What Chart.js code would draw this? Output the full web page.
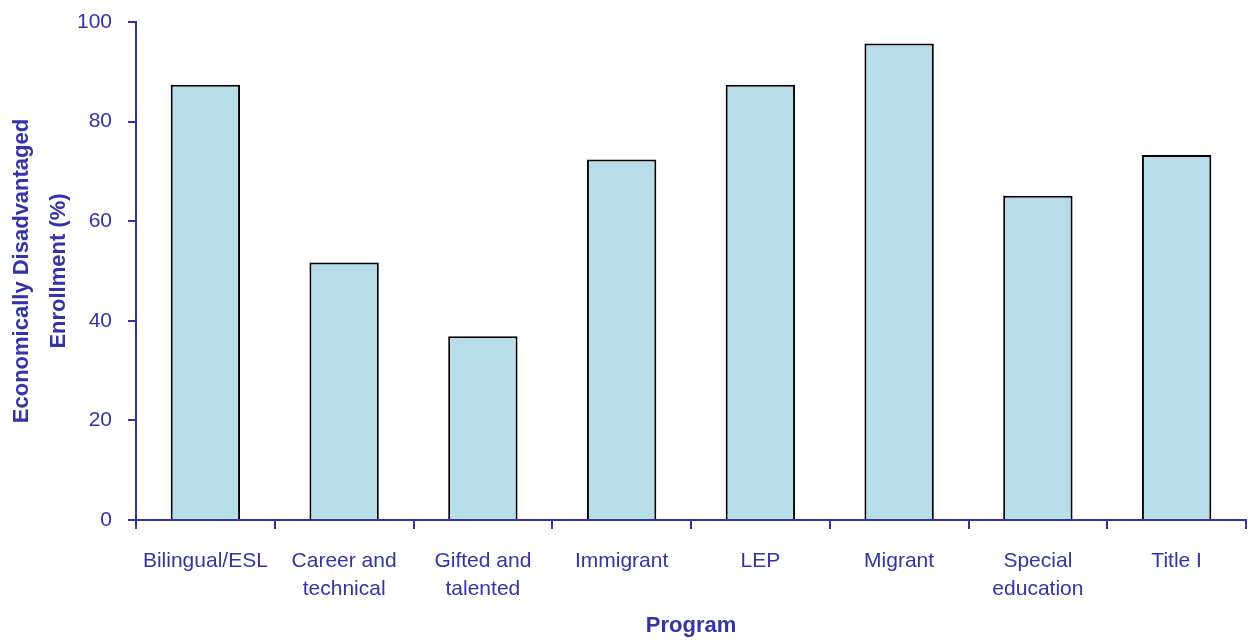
<!DOCTYPE html>
<html>
<head>
<meta charset="utf-8">
<script src="https://cdn.jsdelivr.net/npm/chart.js@4"></script>
<style>
  html, body { margin: 0; padding: 0; background: #fff; }
  #wrap { width: 1248px; height: 640px; }
</style>
</head>
<body>
<div id="wrap"><canvas id="barChart" width="1248" height="640"></canvas></div>
<script>
// 차트 데이터
const programs = [
    'Bilingual/ESL',
    ['Career and', 'technical'],
    ['Gifted and', 'talented'],
    'Immigrant',
    'LEP',
    'Migrant',
    ['Special', 'education'],
    'Title I'
];
const enrollment = [87.4, 51.7, 36.9, 72.4, 87.4, 95.7, 65.1, 73.3];
const yTicks = [0, 20, 40, 60, 80, 100];

const axisBlue = '#3333AA';
const fontName = "'Liberation Sans', Arial, sans-serif";

window.onload = function () {
    let ctx = document.getElementById('barChart').getContext('2d');

    new Chart(ctx, {
        type: 'bar',
        data: {
            labels: programs,
            datasets: [{
                data: enrollment,
                backgroundColor: '#B7DDE8',
                borderColor: '#000',
                borderWidth: 2,
                barPercentage: 0.5,
                categoryPercentage: 1.0
            }]
        },
        options: {
            responsive: false,
            animation: false,
            layout: { padding: { top: 22, right: 2, bottom: 0, left: 0 } },
            plugins: {
                legend: { display: false },
                tooltip: { enabled: false }
            },
            scales: {
                x: {
                    afterFit: function (scale) {
                        scale.height = 120;
                        scale.paddingLeft = 0;
                        scale.paddingRight = 0;
                    },
                    border: { color: axisBlue, width: 2 },
                    grid: {
                        offset: true,
                        drawOnChartArea: false,
                        drawTicks: true,
                        tickLength: 9,
                        color: axisBlue,
                        lineWidth: 2
                    },
                    ticks: {
                        color: axisBlue,
                        font: { family: fontName, size: 21, lineHeight: 1.35 },
                        padding: 18,
                        maxRotation: 0,
                        autoSkip: false
                    },
                    title: {
                        display: true,
                        text: 'Program',
                        color: axisBlue,
                        font: { family: fontName, size: 22, weight: 'bold' },
                        padding: { top: 0, bottom: 1 }
                    }
                },
                y: {
                    min: 0,
                    max: 100,
                    afterFit: function (scale) {
                        scale.width = 136;
                        scale.paddingTop = 0;
                        scale.paddingBottom = 0;
                    },
                    afterBuildTicks: function (scale) {
                        scale.ticks = yTicks.map(v => ({ value: v }));
                    },
                    border: { color: axisBlue, width: 2 },
                    grid: {
                        drawOnChartArea: false,
                        drawTicks: true,
                        tickLength: 8,
                        color: axisBlue,
                        lineWidth: 2
                    },
                    ticks: {
                        color: axisBlue,
                        font: { family: fontName, size: 21 },
                        padding: 16
                    },
                    title: {
                        display: true,
                        text: ['Economically Disadvantaged', 'Enrollment (%)'],
                        color: axisBlue,
                        font: { family: fontName, size: 22, weight: 'bold', lineHeight: 1.65 },
                        padding: { top: 4, bottom: 0 }
                    }
                }
            }
        }
    });
};
</script>
</body>
</html>
